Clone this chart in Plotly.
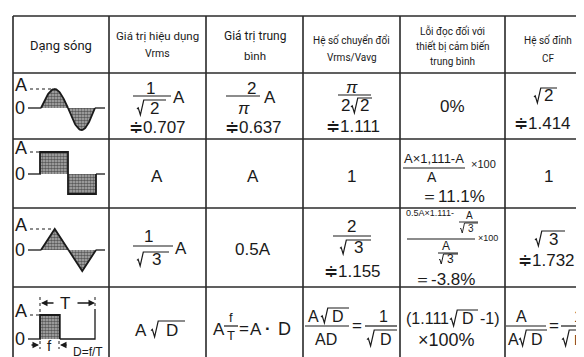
import numpy as np
import plotly.graph_objects as go

# table content
header_lines = [
    ["Dạng sóng"],
    ["Giá trị hiệu dụng", "Vrms"],
    ["Giá trị trung", "bình"],
    ["Hệ số chuyển đổi", "Vrms/Vavg"],
    ["Lỗi đọc đối với", "thiết bị cảm biến", "trung bình"],
    ["Hệ số đỉnh", "CF"],
]
sine_row = ["≑0.707", "≑0.637", "≑1.111", "0%", "≑1.414"]
square_row = ["A", "A", "1", "＝11.1%", "1"]
triangle_row = ["0.5A", "≑1.155", "＝-3.8%", "≑1.732"]
pulse_row = ["A", "×100%", "D=f/T"]

# waveform glyphs in normalised units (t: 0..1, level: -1..1)
square_t = [0, 0, 0.5, 0.5, 1, 1]
square_v = [0, 1, 1, -1, -1, 0]
tri_t = [0, 0.25, 0.5, 0.75, 1]
tri_v = [0, 1, 0, -1, 0]
pulse_t = [0, 0, 0.36, 0.36]
pulse_v = [0, 1, 1, 0]

W, H = 584, 357
INK = "#1a1a1a"
GRID = "#2b2b2b"
MATH = "Liberation Sans, Arial, sans-serif"
HEAD = "Roboto, Noto Sans, sans-serif"

col_x = [5, 101, 198, 295, 392, 497, 583]
row_y = [8, 65, 131, 200, 279]

fig = go.Figure()


def t(x, y, s, size=17, font=MATH, anchor="center"):
    fig.add_annotation(x=x, y=y, text=s, showarrow=False, xanchor=anchor,
                       yanchor="middle", font=dict(family=font, size=size, color=INK))


def bar(x0, x1, y, w=1.2, dash="solid"):
    fig.add_shape(type="line", x0=x0, x1=x1, y0=y, y1=y,
                  line=dict(color=INK, width=w, dash=dash))


def vbar(x, y0, y1, w=1.2, dash="solid"):
    fig.add_shape(type="line", x0=x, x1=x, y0=y0, y1=y1,
                  line=dict(color=INK, width=w, dash=dash))


def root(xl, xr, yt, yb, w=1.2):
    h = yb - yt
    g = 0.45 * h
    path = (f"M{xl},{yt + 0.6 * h} L{xl + 0.18 * g},{yt + 0.52 * h} "
            f"L{xl + 0.5 * g},{yb} L{xl + g},{yt} L{xr},{yt}")
    fig.add_shape(type="path", path=path, line=dict(color=INK, width=w))
    return (xl + g + xr) / 2


def lobe(xs, ys):
    fig.add_trace(go.Scatter(
        x=xs, y=ys, mode="lines", fill="toself", fillcolor="#9a9a9a",
        fillpattern=dict(shape=".", fgcolor="#000", bgcolor="#b5b5b5", size=3, solidity=0.6),
        line=dict(color=INK, width=1.8), hoverinfo="skip", showlegend=False))


def wave_line(xs, ys, w=1.3):
    fig.add_trace(go.Scatter(x=xs, y=ys, mode="lines", line=dict(color=INK, width=w),
                             hoverinfo="skip", showlegend=False))


# grid
for x in col_x:
    vbar(x, row_y[0], H + 2, w=1.5)
for y in row_y:
    fig.add_shape(type="line", x0=col_x[0], x1=col_x[-1], y0=y, y1=y,
                  line=dict(color=GRID, width=1.5))

# header
head_pos = [
    [(37, 13)],
    [(28, 11.5), (45, 10.5)],
    [(28, 12), (48, 11.5)],
    [(32, 10), (49, 10)],
    [(23, 10), (38, 10), (53, 10)],
    [(32, 10), (50, 10)],
]
for c, lines in enumerate(header_lines):
    cx = (col_x[c] + col_x[c + 1]) / 2
    for s, (y, size) in zip(lines, head_pos[c]):
        t(cx, y, s, size=size, font=HEAD)


# waveform labels
def levels(ya, y0, xa_end):
    t(13, ya - 4, "A", 18)
    t(12, y0, "0", 18)
    bar(22, xa_end, ya, w=1, dash="dot")
    wave_line([20, 33], [y0, y0])


# sine row
x0, x1, base = 33, 87, 100
levels(81, base, 47)
ts = np.linspace(0, 0.5, 40)
lobe(x0 + ts * (x1 - x0), base - 19 * np.sin(2 * np.pi * ts))
ts = np.linspace(0.5, 1, 40)
lobe(x0 + ts * (x1 - x0), base - 22 * np.sin(2 * np.pi * ts))
wave_line([87, 97], [base, base])

# square row
base = 166
levels(144, base, 32)
sx = [32 + v * (88 - 32) for v in square_t]
lobe(sx[:4], [base - 22 * v if v > 0 else base for v in square_v[:4]])
lobe(sx[2:], [base - 20 * v if v < 0 else base for v in square_v[2:]])
wave_line([88, 97], [base, base])

# triangle row
base = 242
levels(221, base, 45)
tx = [33 + v * (88 - 33) for v in tri_t]
lobe(tx[:3], [base - 21 * v for v in tri_v[:3]])
lobe(tx[2:], [base - 21 * v for v in tri_v[2:]])
wave_line([88, 97], [base, base])

# pulse row
base = 331
levels(307, base, 32)
px_ = [32 + v * (87 - 32) for v in pulse_t]
lobe(px_, [base - 24 * v for v in pulse_v])
wave_line([px_[-1], 87, 87], [base, base, 301])
vbar(32, 289, 307, w=1, dash="dot")
vbar(87, 289, 301, w=1, dash="dot")
for xa, xb in [(47, 33), (68, 87)]:
    fig.add_annotation(x=xb, y=295, ax=xa, ay=295, axref="x", ayref="y", text="",
                       showarrow=True, arrowhead=2, arrowsize=1, arrowwidth=1.3, arrowcolor=INK)
t(57, 295, "T", 17)
for xa, xb in [(22, 31), (60, 52)]:
    fig.add_annotation(x=xb, y=337, ax=xa, ay=337, axref="x", ayref="y", text="",
                       showarrow=True, arrowhead=2, arrowsize=1, arrowwidth=1.3, arrowcolor=INK)
vbar(32, 333, 341, w=1, dash="dot")
vbar(51, 333, 341, w=1, dash="dot")
t(41, 337, "f", 15)
t(80, 344, pulse_row[2], 12)

# ---- row 1: sine ----
t(142, 80, "1")
bar(125, 163, 88)
t(171, 89, "A")
t(root(129, 158, 92, 107), 100, "2")
t(149, 119, sine_row[0])

t(243, 80, "2")
bar(218, 252, 88)
t(262, 89, "A")
t(236, 100, "<i>π</i>")
t(245, 119, sine_row[1])

t(344, 79, "<i>π</i>")
bar(330, 363, 87)
t(337, 97, "2")
t(root(343, 364, 90, 105), 97, "2")
t(345, 118, sine_row[2])

t(444, 98, sine_row[3])

t(root(526, 549, 80, 95), 87, "2")
t(534, 115, sine_row[4])

# ---- row 2: square ----
t(149, 168, square_row[0])
t(245, 168, square_row[1])
t(343, 168, square_row[2])
t(426, 150, "A×1,111-A", 13)
bar(395, 457, 160)
t(424, 169, "A", 14)
t(475, 156, "×100", 11)
t(445, 188, square_row[3])
t(540, 168, square_row[4])

# ---- row 3: triangle ----
t(140, 228, "1")
bar(125, 165, 238)
t(173, 240, "A")
t(root(129, 161, 244, 258), 251, "3")

t(245, 241, triangle_row[0])

t(343, 218, "2")
bar(325, 363, 228)
t(root(332, 363, 232, 246), 239, "3")
t(344, 263, triangle_row[1])

t(422, 205, "0.5A×1.111-", 9)
t(461, 207, "A", 10)
bar(451, 470, 214, w=0.9)
t(root(452, 470, 215, 225, w=0.9), 220, "3", 10)
bar(399, 467, 231)
t(480, 230, "×100", 9)
t(438, 238, "A", 12)
bar(430, 450, 245, w=1)
t(root(431, 450, 246, 256, w=1), 251, "3", 12)
t(436, 271, triangle_row[2])

t(root(527, 557, 223, 238), 231, "3")
t(538, 252, triangle_row[3])

# ---- row 4: pulse ----
t(133, 322, pulse_row[0])
t(root(143, 177, 313, 329), 322, "D")

t(211, 321, "A")
t(223, 309, "f", 13)
bar(216, 230, 318)
t(223, 327, "T", 13)
t(236, 320, "=", 17)
t(248, 321, "A", 17)
t(260, 320, "<b>·</b>", 17)
t(276, 321, "D", 18)

t(305, 308, "A", 16)
t(root(313, 341, 300, 315), 308, "D", 16)
bar(297, 341, 318)
t(318, 331, "AD", 16)
t(349, 317, "=", 17)
t(375, 308, "1", 16)
bar(357, 389, 318)
t(root(359, 389, 322, 338), 331, "D", 16)

t(419, 310, "(1.111", 16)
t(root(442, 470, 302, 318), 310, "D", 16)
t(482, 310, "-1)", 16)
t(438, 332, pulse_row[1], 18)

t(513, 308, "A", 16)
bar(498, 538, 318)
t(505, 331, "A", 16)
t(root(511, 539, 322, 338), 331, "D", 16)
t(546, 317, "=", 17)
t(570, 308, "1", 16)
bar(553, 582, 318)
t(root(554, 581, 322, 338), 331, "D", 15)

fig.update_xaxes(range=[0, W], visible=False, fixedrange=True)
fig.update_yaxes(range=[H, 0], visible=False, fixedrange=True)
fig.update_layout(width=W, height=H, margin=dict(l=0, r=0, t=0, b=0),
                  plot_bgcolor="white", paper_bgcolor="white", showlegend=False)
fig.write_html("out.html")
